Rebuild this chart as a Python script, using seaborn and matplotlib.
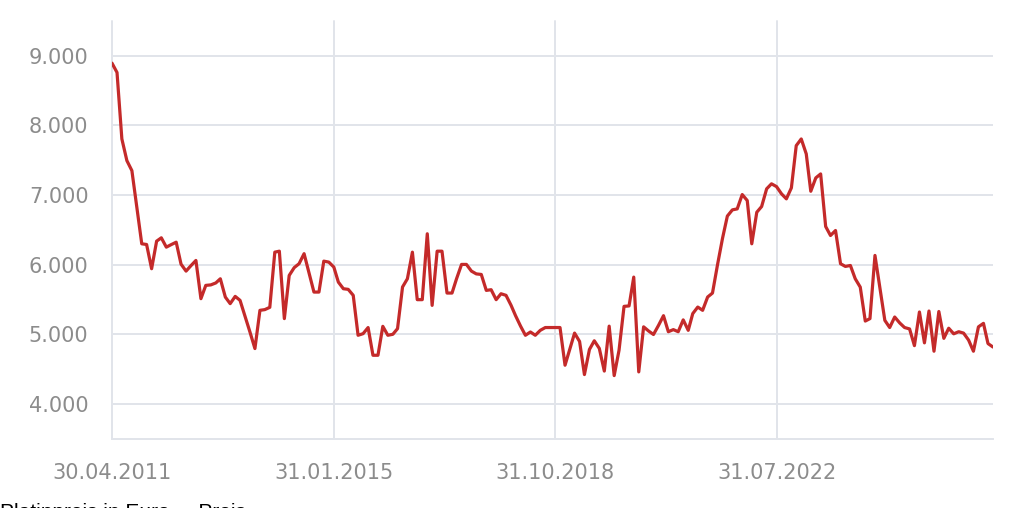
import pandas as pd
import matplotlib.pyplot as plt
import matplotlib.dates as mdates
import matplotlib.ticker as ticker
import seaborn as sns

# monthly values (month end)
start_date = '2011-04-30'
prices = [
    8895, 8761, 7807, 7496, 7352, 6830, 6302, 6292, 5944, 6340,
    6388, 6254, 6290, 6325, 6010, 5910, 5990, 6063, 5514, 5705,
    5712, 5740, 5800, 5537, 5443, 5547, 5490, 5260, 5030, 4798,
    5347, 5357, 5390, 6182, 6196, 5228, 5848, 5960, 6016, 6160,
    5880, 5609, 5609, 6053, 6039, 5968, 5752, 5657, 5648, 5562,
    4989, 5012, 5100, 4702, 4702, 5117, 4989, 5003, 5084, 5682,
    5800, 6182, 5500, 5500, 6446, 5418, 6196, 6196, 5595, 5595,
    5800, 6006, 6006, 5910, 5870, 5862, 5633, 5643, 5500, 5585,
    5562, 5420, 5270, 5120, 4989, 5036, 4989, 5060, 5100, 5100,
    5100, 5100, 4559, 4800, 5020, 4900, 4425, 4785, 4910, 4800,
    4475, 5120, 4410, 4774, 5404, 5410, 5824, 4463, 5110, 5050,
    5000, 5130, 5270, 5040, 5070, 5040, 5210, 5060, 5300, 5394,
    5347, 5538, 5595, 6000, 6380, 6700, 6789, 6803, 7009, 6923,
    6302, 6755, 6837, 7091, 7163, 7123, 7019, 6947, 7105, 7711,
    7807, 7592, 7056, 7248, 7305, 6550, 6421, 6493, 6016, 5977,
    5991, 5800, 5680, 5193, 5228, 6135, 5680, 5203, 5100, 5251,
    5166, 5100, 5080, 4840, 5323, 4880, 5337, 4760, 5330, 4945,
    5090, 5010, 5040, 5020, 4920, 4760, 5110, 5160, 4870, 4820,
]
tick_dates = ['2011-04-30', '2015-01-31', '2018-10-31', '2022-07-31']
y_ticks = [4000, 5000, 6000, 7000, 8000, 9000]

df = pd.DataFrame({
    'Datum': pd.date_range(start_date, periods=len(prices), freq='ME'),
    'Preis': prices,
})

sns.set_style('white')
plt.rcParams['font.family'] = ['DejaVu Sans']

grid_col = '#e1e4ea'
label_col = '#8c8c8c'

fig = plt.figure(figsize=(10.24, 5.08), dpi=100)
ax = fig.add_axes([112 / 1024, 69 / 508, 881 / 1024, 418 / 508])

sns.lineplot(data=df, x='Datum', y='Preis', color='#c42a2a', linewidth=2.3, ax=ax)

ax.set_xlim(df['Datum'].iloc[0], df['Datum'].iloc[-1])
ax.set_ylim(3500, 9500)
ax.set_xticks(pd.to_datetime(tick_dates))
ax.xaxis.set_major_formatter(mdates.DateFormatter('%d.%m.%Y'))
ax.set_yticks(y_ticks)
ax.yaxis.set_major_formatter(ticker.FuncFormatter(lambda v, p: f'{int(v):,}'.replace(',', '.')))

ax.grid(True, color=grid_col, linewidth=1.4)
ax.set_axisbelow(True)
for gl in ax.get_xgridlines():
    gl.set_clip_on(False)
ax.tick_params(axis='both', colors=grid_col, labelcolor=label_col, labelsize=15, width=1.4)
ax.tick_params(axis='y', length=11, pad=6)
ax.tick_params(axis='x', length=10, pad=7)
for s in ['top', 'right', 'left']:
    ax.spines[s].set_visible(False)
ax.spines['bottom'].set_color(grid_col)
ax.spines['bottom'].set_linewidth(1.4)
ax.set_xlabel('')
ax.set_ylabel('')

# caption below the chart, mostly cut off by the image edge as in the original
fig.text(0.0, -0.02, 'Platinpreis in Euro     Preis', fontsize=15, color='black',
         family=['Liberation Sans'], va='baseline')

fig.savefig('out.png', dpi=100)
